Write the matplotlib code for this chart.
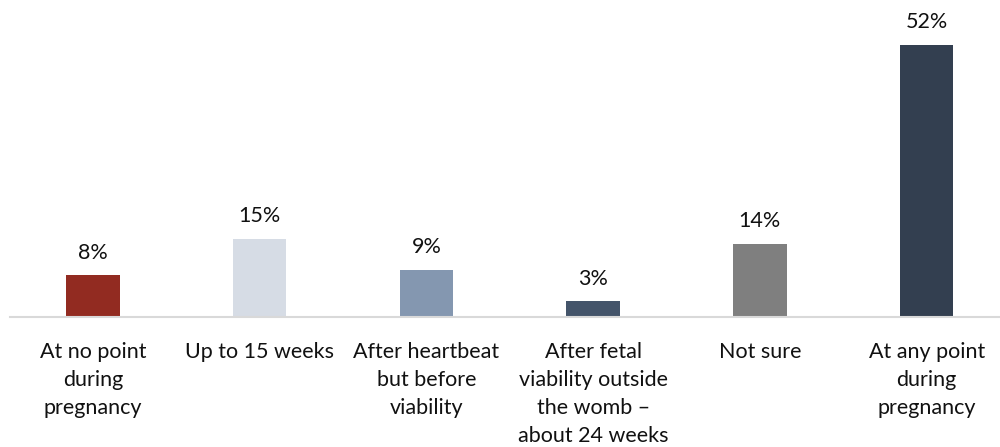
import numpy as np
from matplotlib import pyplot as plt

# data
categories = ['At no point\nduring\npregnancy', 'Up to 15 weeks',
              'After heartbeat\nbut before\nviability',
              'After fetal\nviability outside\nthe womb \u2013\nabout 24 weeks',
              'Not sure', 'At any point\nduring\npregnancy']
values = [8, 15, 9, 3, 14, 52]
colors = ['#922B21', '#D6DCE5', '#8497B0', '#44546A', '#7F7F7F', '#333F50']

plt.rcParams['font.family'] = ['Lato', 'DejaVu Sans']

fig = plt.figure(figsize=(10, 4.47), dpi=100)
# axes spans a bit past the right edge, as in the reference
ax = fig.add_axes([0.0096, 0.2908, 1.0004, 0.7092])

x = np.arange(len(values))
bars = ax.bar(x, values, width=0.32, color=colors)

# value labels above the bars
for xi, v in zip(x, values):
    ax.annotate(f'{v}%', (xi, v), xytext=(0, 9), textcoords='offset points',
                ha='center', va='bottom', fontsize=15.5, color='#111111')

ax.set_xlim(-0.5, len(values) - 0.5)
ax.set_ylim(0, 60.6)
ax.set_xticks(x)
ax.set_xticklabels(categories, fontsize=15.5, color='#111111', linespacing=1.5)
ax.tick_params(axis='x', length=0, pad=18)
ax.set_yticks([])

for side in ['top', 'right', 'left']:
    ax.spines[side].set_visible(False)
ax.spines['bottom'].set_color('#D9D9D9')
ax.spines['bottom'].set_linewidth(1.5)

fig.savefig('out.png', dpi=100)
